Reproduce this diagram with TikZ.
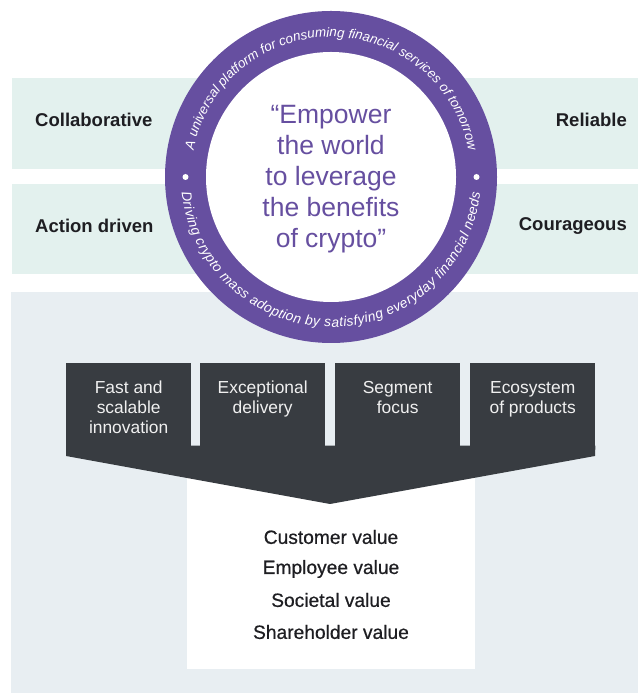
\documentclass[tikz,border=0pt]{standalone}
\usepackage{fontspec}
\setmainfont{Liberation Sans}
\newfontfamily\medfont[FakeBold=0.6]{Liberation Sans}
\newfontfamily\ringfont{Liberation Sans Italic}
\usetikzlibrary{decorations.text}
\definecolor{mint}{HTML}{E3F1EE}
\definecolor{panel}{HTML}{E8EEF2}
\definecolor{dark}{HTML}{383C41}
\definecolor{ringpurple}{HTML}{664FA0}
\definecolor{ink}{HTML}{1E1E22}
\tikzset{
  band/.style={fill=mint},
  valuelabel/.style={font=\bfseries\fontsize{18.5}{22}\selectfont, text=ink, inner sep=0pt},
  pillar/.style={fill=dark, minimum width=125pt, minimum height=83pt, inner sep=0pt, anchor=north west},
  pillartext/.style={font=\fontsize{17.4}{20}\selectfont, text=white!94!black, align=center, anchor=north, inner sep=0pt},
  outcome/.style={font=\medfont\fontsize{19.2}{22}\selectfont, text=ink, inner sep=0pt},
}
\begin{document}
\begin{tikzpicture}[x=1pt,y=1pt]
\useasboundingbox (0,0) rectangle (638,693);
% bands
\fill[band] (12,524) rectangle (638,615);
\fill[band] (12,419) rectangle (638,509);
\fill[panel] (11,0) rectangle (638,401);
% values
\node[valuelabel, anchor=west] (collab) at (35,573) {Collaborative};
\node[valuelabel, anchor=west] (action) at (35,467) {Action driven};
\node[valuelabel, anchor=east] (reliable) at (627,573) {Reliable};
\node[valuelabel, anchor=east] (courage) at (627,467) {Courageous};
% white outcome box
\fill[white] (187,24) rectangle (475,240);
% pillars
\node[pillar] (p1) at (66,330) {};
\node[pillar] (p2) at (200,330) {};
\node[pillar] (p3) at (335,330) {};
\node[pillar] (p4) at (470,330) {};
\fill[dark] ([yshift=0.8pt]p1.south west) -- ([yshift=0.8pt]p4.south east) -- (595,237) -- (330,189) -- (66,237) -- cycle;
\node[pillartext] (t1) at ([yshift=-18pt]p1.north) {Fast and\\scalable\\innovation};
\node[pillartext] (t2) at ([yshift=-18pt]p2.north) {Exceptional\\delivery};
\node[pillartext] (t3) at ([yshift=-18pt]p3.north) {Segment\\focus};
\node[pillartext] (t4) at ([yshift=-18pt]p4.north) {Ecosystem\\of products};
% outcomes
\node[outcome] (o1) at (331,156) {Customer value};
\node[outcome] (o2) at (331,124) {Employee value};
\node[outcome] (o3) at (331,93) {Societal value};
\node[outcome] (o4) at (331,61) {Shareholder value};
% ring
\coordinate (c) at (331,516);
\fill[ringpurple] (c) circle (166);
\fill[white] (c) circle (125);
\fill[white] ([xshift=-145.5pt]c) circle (3);
\fill[white] ([xshift=145.5pt]c) circle (3);
\path[decorate, decoration={text along path, text color=white,
  text={|\ringfont\fontsize{13.4}{15}\selectfont|A universal platform for consuming financial services of tomorrow},
  text align=fit to path}]
  (c) ++(169:140) arc[start angle=169, end angle=11, radius=140];
\path[decorate, decoration={text along path, text color=white,
  text={|\ringfont\fontsize{13.8}{15}\selectfont|Driving crypto mass adoption by satisfying everyday financial needs},
  text align=fit to path}]
  (c) ++(186:150) arc[start angle=186, end angle=354, radius=150];
\node[font=\fontsize{26.5}{31}\selectfont, text=ringpurple, align=center, inner sep=0pt] (mission) at (331,514)
  {“Empower\\the world\\to leverage\\the benefits\\of crypto”};
\end{tikzpicture}
\end{document}
